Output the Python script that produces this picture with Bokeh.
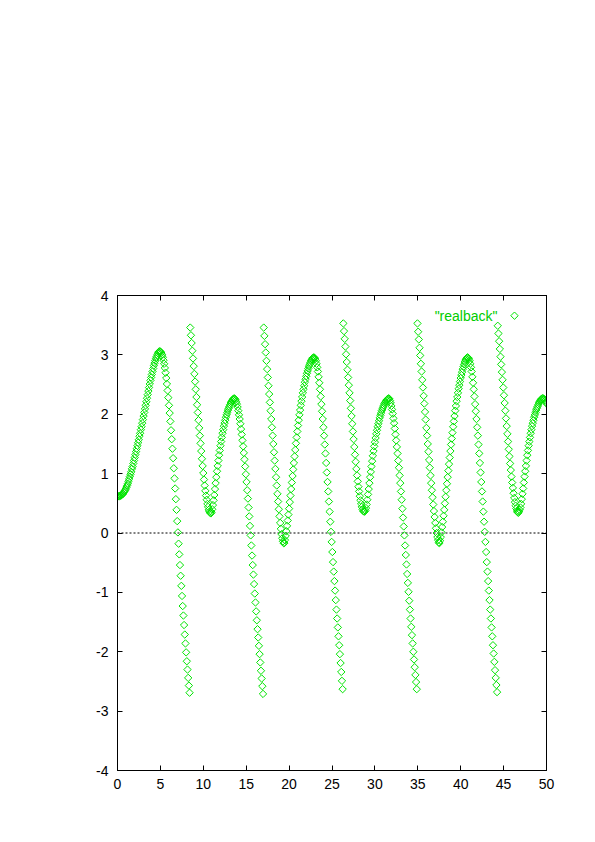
import numpy as np
from bokeh.plotting import figure
from bokeh.models import Range1d, FixedTicker, LinearAxis, Span, Label, CustomJSTickFormatter
from bokeh.embed import file_html
from bokeh.resources import INLINE

# ---- data (sample spacing 0.08 along x) ----
x_step = 0.08

seg1 = [0.62, 0.62, 0.62, 0.62, 0.63, 0.63, 0.64, 0.65, 0.66, 0.68,
        0.70, 0.72, 0.74, 0.77, 0.80, 0.83, 0.87, 0.91, 0.95, 0.99,
        1.03, 1.08, 1.12, 1.17, 1.22, 1.27, 1.32, 1.37, 1.42, 1.47,
        1.52, 1.57, 1.63, 1.68, 1.74, 1.79, 1.85, 1.91, 1.97, 2.03,
        2.09, 2.15, 2.21, 2.27, 2.33, 2.39, 2.45, 2.51, 2.57, 2.62,
        2.67, 2.72, 2.77, 2.82, 2.86, 2.90, 2.94, 2.97, 3.00, 3.03,
        3.05, 3.06, 3.06, 3.05, 3.03, 3.00, 2.96, 2.91, 2.85, 2.78,
        2.70, 2.61, 2.51, 2.40, 2.28, 2.15, 2.02, 1.88, 1.73, 1.58,
        1.42, 1.26, 1.09, 0.92, 0.75, 0.57, 0.39, 0.20, 0.01, -0.18,
        -0.36, -0.54, -0.72, -0.89, -1.06, -1.23, -1.39, -1.55, -1.71, -1.86,
        -2.01, -2.16, -2.30, -2.44, -2.57, -2.69]

seg2 = [3.46, 3.33, 3.20, 3.07, 2.94, 2.81, 2.68, 2.55, 2.42, 2.29,
        2.16, 2.03, 1.90, 1.77, 1.64, 1.51, 1.38, 1.25, 1.13, 1.01,
        0.90, 0.80, 0.71, 0.63, 0.56, 0.49, 0.44, 0.39, 0.36, 0.34,
        0.33, 0.35, 0.40, 0.47, 0.55, 0.64, 0.74, 0.84, 0.94, 1.04,
        1.13, 1.22, 1.31, 1.39, 1.47, 1.54, 1.61, 1.68, 1.74, 1.80,
        1.85, 1.90, 1.95, 1.99, 2.03, 2.07, 2.10, 2.13, 2.16, 2.19,
        2.21, 2.23, 2.25, 2.26, 2.27, 2.26, 2.24, 2.21, 2.17, 2.12,
        2.06, 1.99, 1.92, 1.84, 1.75, 1.66, 1.56, 1.46, 1.35, 1.24,
        1.12, 0.99, 0.86, 0.72, 0.58, 0.43, 0.28, 0.12, -0.04, -0.21,
        -0.38, -0.54, -0.70, -0.86, -1.02, -1.17, -1.32, -1.47, -1.62, -1.76,
        -1.90, -2.04, -2.18, -2.32, -2.45, -2.58, -2.71]

seg3 = [3.46, 3.32, 3.18, 3.04, 2.90, 2.76, 2.62, 2.48, 2.34, 2.20,
        2.06, 1.92, 1.78, 1.64, 1.50, 1.36, 1.22, 1.08, 0.94, 0.80,
        0.66, 0.53, 0.40, 0.28, 0.17, 0.07, -0.02, -0.09, -0.14, -0.17,
        -0.17, -0.12, -0.05, 0.03, 0.12, 0.21, 0.31, 0.41, 0.52, 0.63,
        0.74, 0.85, 0.96, 1.07, 1.18, 1.29, 1.40, 1.51, 1.61, 1.71,
        1.81, 1.90, 1.99, 2.07, 2.15, 2.22, 2.29, 2.36, 2.42, 2.48,
        2.54, 2.59, 2.64, 2.69, 2.73, 2.77, 2.81, 2.84, 2.87, 2.90,
        2.92, 2.94, 2.95, 2.96, 2.95, 2.93, 2.90, 2.85, 2.79, 2.72,
        2.63, 2.53, 2.42, 2.30, 2.17, 2.05, 1.92, 1.78, 1.64, 1.49,
        1.34, 1.18, 1.02, 0.86, 0.70, 0.53, 0.36, 0.19, 0.02, -0.15,
        -0.32, -0.49, -0.65, -0.81, -0.97, -1.13, -1.29, -1.44, -1.59, -1.74,
        -1.89, -2.04, -2.19, -2.34, -2.49, -2.63]

seg4 = [3.53, 3.40, 3.27, 3.14, 3.01, 2.88, 2.75, 2.62, 2.49, 2.36,
        2.23, 2.10, 1.97, 1.84, 1.71, 1.58, 1.45, 1.32, 1.20, 1.08,
        0.97, 0.87, 0.78, 0.70, 0.62, 0.55, 0.49, 0.44, 0.40, 0.37,
        0.36, 0.36, 0.38, 0.42, 0.48, 0.56, 0.65, 0.74, 0.84, 0.94,
        1.03, 1.12, 1.21, 1.30, 1.38, 1.46, 1.53, 1.60, 1.67, 1.73,
        1.79, 1.84, 1.89, 1.94, 1.98, 2.02, 2.06, 2.09, 2.12, 2.15,
        2.18, 2.20, 2.22, 2.24, 2.25, 2.26, 2.27, 2.26, 2.23, 2.19,
        2.14, 2.08, 2.01, 1.93, 1.85, 1.76, 1.66, 1.56, 1.45, 1.34,
        1.22, 1.10, 0.97, 0.84, 0.70, 0.56, 0.41, 0.26, 0.11, -0.04,
        -0.21, -0.37, -0.53, -0.69, -0.84, -0.99, -1.14, -1.29, -1.44, -1.58,
        -1.72, -1.86, -2.00, -2.13, -2.26, -2.39, -2.51, -2.63]

seg5 = [3.53, 3.39, 3.26, 3.12, 2.99, 2.85, 2.72, 2.58, 2.45, 2.31,
        2.18, 2.04, 1.91, 1.77, 1.64, 1.50, 1.37, 1.23, 1.10, 0.97,
        0.84, 0.72, 0.60, 0.48, 0.37, 0.27, 0.17, 0.08, 0.00, -0.07,
        -0.12, -0.16, -0.17, -0.13, -0.07, 0.01, 0.10, 0.19, 0.29, 0.39,
        0.50, 0.61, 0.72, 0.83, 0.94, 1.05, 1.16, 1.27, 1.38, 1.49,
        1.59, 1.69, 1.79, 1.88, 1.97, 2.06, 2.14, 2.22, 2.29, 2.36,
        2.43, 2.49, 2.55, 2.61, 2.66, 2.71, 2.76, 2.80, 2.84, 2.88,
        2.91, 2.93, 2.95, 2.96, 2.95, 2.93, 2.90, 2.85, 2.79, 2.72,
        2.63, 2.53, 2.42, 2.30, 2.17, 2.05, 1.92, 1.78, 1.64, 1.49,
        1.34, 1.18, 1.02, 0.86, 0.70, 0.53, 0.36, 0.19, 0.02, -0.15,
        -0.32, -0.49, -0.65, -0.81, -0.97, -1.13, -1.29, -1.44, -1.59, -1.74,
        -1.89, -2.03, -2.17, -2.31, -2.44, -2.56, -2.68]

seg6 = [3.49, 3.36, 3.23, 3.10, 2.97, 2.84, 2.71, 2.58, 2.45, 2.32,
        2.19, 2.06, 1.93, 1.80, 1.67, 1.54, 1.41, 1.29, 1.17, 1.06,
        0.95, 0.85, 0.76, 0.67, 0.59, 0.52, 0.46, 0.41, 0.37, 0.35,
        0.34, 0.36, 0.39, 0.43, 0.49, 0.57, 0.66, 0.75, 0.85, 0.95,
        1.04, 1.13, 1.22, 1.31, 1.39, 1.47, 1.54, 1.61, 1.68, 1.74,
        1.80, 1.85, 1.90, 1.95, 1.99, 2.03, 2.07, 2.10, 2.13, 2.16,
        2.19, 2.21, 2.23, 2.25, 2.26, 2.27, 2.27, 2.26, 2.25, 2.23,
        2.21, 2.18]

series_label = '"realback"'
x_ticks = [0, 5, 10, 15, 20, 25, 30, 35, 40, 45, 50]
y_ticks = [-4, -3, -2, -1, 0, 1, 2, 3, 4]
x_tick_labels = ["0", "5", "10", "15", "20", "25", "30", "35", "40", "45", "50"]
y_tick_labels = ["-4", "-3", "-2", "-1", "0", "1", "2", "3", "4"]

# ---- build ----
y_all = seg1 + seg2 + seg3 + seg4 + seg5 + seg6
x_all = [round(i * x_step, 4) for i in range(len(y_all))]

GREEN = "#00e400"
FONT = "Liberation Sans"

p = figure(frame_width=429, frame_height=475,
           x_range=Range1d(0, 50), y_range=Range1d(-4, 4),
           output_backend="svg", toolbar_location=None,
           min_border_left=117, min_border_right=41,
           min_border_top=295, min_border_bottom=48)
p.background_fill_color = "white"
p.border_fill_color = "white"
p.outline_line_color = "black"
p.outline_line_width = 1
p.grid.visible = False

def style_axis(ax, ticks, labels=None, standoff=8):
    ax.ticker = FixedTicker(ticks=ticks)
    ax.major_tick_in = 5
    ax.major_tick_out = 0
    ax.minor_tick_in = 0
    ax.minor_tick_out = 0
    ax.axis_line_color = "black"
    ax.major_tick_line_color = "black"
    ax.major_label_text_font = FONT
    ax.major_label_text_font_size = "14px"
    ax.major_label_text_color = "black"
    ax.major_label_standoff = standoff
    if labels is None:
        ax.formatter = CustomJSTickFormatter(code="return ''")
    else:
        ax.major_label_overrides = {t: s for t, s in zip(ticks, labels)}

style_axis(p.xaxis[0], x_ticks, x_tick_labels, 8)
style_axis(p.yaxis[0], y_ticks, y_tick_labels, 9)

top_ax = LinearAxis()
style_axis(top_ax, x_ticks, None, 0)
p.add_layout(top_ax, "above")
right_ax = LinearAxis()
style_axis(right_ax, y_ticks, None, 0)
p.add_layout(right_ax, "right")

zero = Span(location=0, dimension="width", line_color="black",
            line_dash="2 2", line_width=1, level="underlay")
p.add_layout(zero)

p.scatter(x_all, y_all, marker="square", size=5.2, angle=np.pi / 4,
          fill_color=None, line_color=GREEN, line_width=1)

# key (gnuplot style: label then sample symbol)
key_text_x, key_marker_x, key_y = 44.29, 46.27, 3.66
p.add_layout(Label(x=key_text_x, y=key_y, text=series_label,
                   text_align="right", text_baseline="middle",
                   text_font=FONT, text_font_size="14px", text_color="#00cc00"))
p.scatter([key_marker_x], [key_y], marker="square", size=5.2, angle=np.pi / 4,
          fill_color=None, line_color=GREEN, line_width=1)

open("out.html", "w").write(file_html(p, INLINE))
